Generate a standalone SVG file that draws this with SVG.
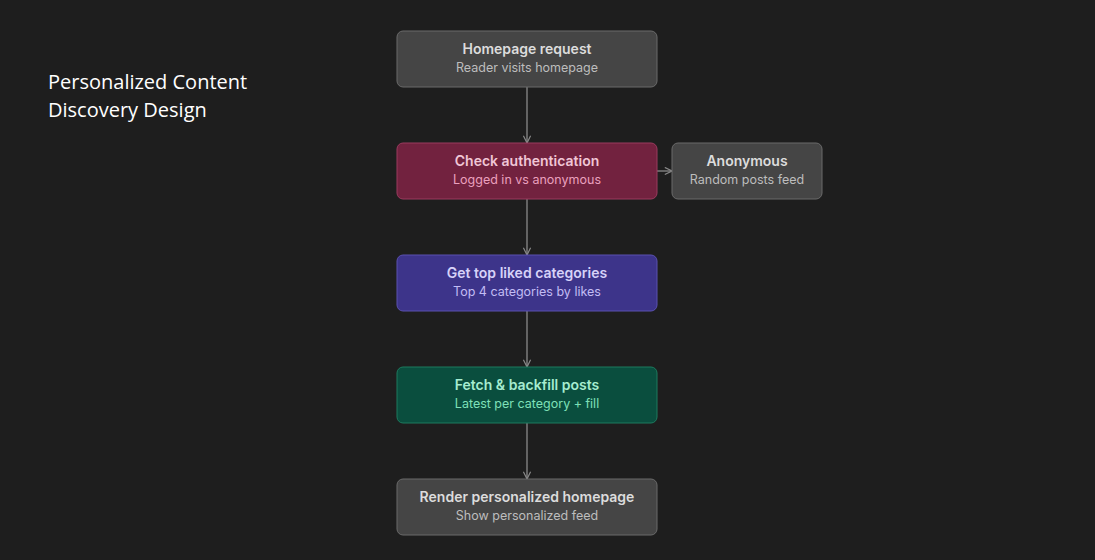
<svg xmlns="http://www.w3.org/2000/svg" width="1095" height="560" viewBox="0 0 1095 560">
<style>
.t{font-family:Inter,"Liberation Sans",sans-serif;font-size:14px;font-weight:600;text-anchor:middle}
.s{font-family:Inter,"Liberation Sans",sans-serif;font-size:12.5px;text-anchor:middle}
.c{stroke:#8a8a8a;stroke-width:1.3;fill:none;marker-end:url(#a)}
</style>
<defs><marker id="a" viewBox="0 0 10 10" refX="9" refY="5" markerWidth="9" markerHeight="9" orient="auto" markerUnits="userSpaceOnUse"><path d="M1 1L9 5L1 9" fill="none" stroke="#8a8a8a" stroke-width="1.3"/></marker></defs>
<rect width="1095" height="560" fill="#1e1e1e"/>
<text x="48" y="89" font-family="'Open Sans','Liberation Sans',sans-serif" font-size="20" fill="#fff">Personalized Content</text>
<text x="48" y="117" font-family="'Open Sans','Liberation Sans',sans-serif" font-size="20" fill="#fff">Discovery Design</text>
<g id="connectors">
<path class="c" d="M527 87V143"/><path class="c" d="M527 199V255"/><path class="c" d="M527 311V367"/><path class="c" d="M527 423V479"/><path class="c" d="M657 171H672"/>
</g>
<g id="n1"><rect x="397" y="31" width="260" height="56" rx="6" fill="#454545" stroke="#6a6a6a"/><text class="t" x="527" y="54" fill="#dcdcdc">Homepage request</text><text class="s" x="527" y="72" fill="#bdbdbd">Reader visits homepage</text></g>
<g id="n2"><rect x="397" y="143" width="260" height="56" rx="6" fill="#72223f" stroke="#9a3a5e"/><text class="t" x="527" y="166" fill="#f0c6d6">Check authentication</text><text class="s" x="527" y="184" fill="#eaa0be">Logged in vs anonymous</text></g>
<g id="n3"><rect x="672" y="143" width="150" height="56" rx="6" fill="#454545" stroke="#6a6a6a"/><text class="t" x="747" y="166" fill="#dcdcdc">Anonymous</text><text class="s" x="747" y="184" fill="#bdbdbd">Random posts feed</text></g>
<g id="n4"><rect x="397" y="255" width="260" height="56" rx="6" fill="#3d348a" stroke="#5a50b0"/><text class="t" x="527" y="278" fill="#d6d2f8">Get top liked categories</text><text class="s" x="527" y="296" fill="#c2bcf4">Top 4 categories by likes</text></g>
<g id="n5"><rect x="397" y="367" width="260" height="56" rx="6" fill="#0a4e3e" stroke="#1d7a5e"/><text class="t" x="527" y="390" fill="#a6ecd0">Fetch &amp; backfill posts</text><text class="s" x="527" y="408" fill="#7ee0b8">Latest per category + fill</text></g>
<g id="n6"><rect x="397" y="479" width="260" height="56" rx="6" fill="#454545" stroke="#6a6a6a"/><text class="t" x="527" y="502" fill="#dcdcdc">Render personalized homepage</text><text class="s" x="527" y="520" fill="#bdbdbd">Show personalized feed</text></g>
</svg>
